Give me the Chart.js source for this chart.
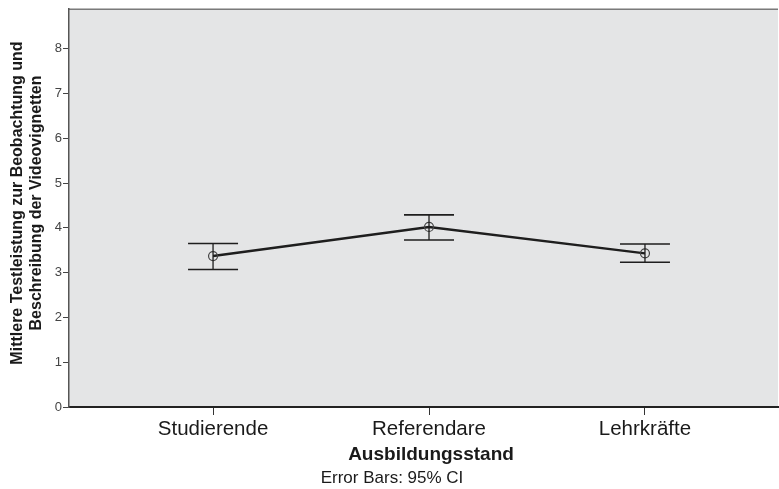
<!DOCTYPE html>
<html>
<head>
<meta charset="utf-8">
<script src="https://cdn.jsdelivr.net/npm/chart.js@4/dist/chart.umd.min.js"></script>
<style>
  html, body { margin: 0; padding: 0; background: #ffffff; overflow: hidden; }
  #wrap { width: 779px; height: 489px; }
</style>
</head>
<body>
<div id="wrap"><canvas id="c" width="779" height="489"></canvas></div>
<script>
// Groups along the x axis
const categories = ['Studierende', 'Referendare', 'Lehrkräfte'];
// Mean test score per group
const means = [3.37, 4.02, 3.43];
// 95% confidence interval bounds per group
const ciLower = [3.07, 3.73, 3.23];
const ciUpper = [3.65, 4.29, 3.64];
// Value axis ticks
const yTicks = [0, 1, 2, 3, 4, 5, 6, 7, 8];

const yTitleLines = ['Mittlere Testleistung zur Beobachtung und', 'Beschreibung der Videovignetten'];
const xTitle = 'Ausbildungsstand';
const footnote = 'Error Bars: 95% CI';

const FONT = '"Liberation Sans", Arial, Helvetica, sans-serif';

// Grey plotting panel with a thin top rule
const panelPlugin = {
  id: 'panel',
  beforeDraw(chart) {
    const { ctx, chartArea: a } = chart;
    ctx.save();
    ctx.fillStyle = '#e4e5e6';
    ctx.fillRect(a.left, a.top, a.right - a.left, a.bottom - a.top);
    ctx.strokeStyle = '#7a7a7a';
    ctx.lineWidth = 1.5;
    ctx.beginPath();
    ctx.moveTo(a.left, a.top + 0.5);
    ctx.lineTo(a.right, a.top + 0.5);
    ctx.stroke();
    ctx.restore();
  }
};

// Confidence interval whiskers with caps
const errorBarPlugin = {
  id: 'errorBars',
  afterDatasetsDraw(chart) {
    const { ctx, scales: { x, y } } = chart;
    const cap = 25;
    ctx.save();
    ctx.strokeStyle = '#1e1e1e';
    categories.forEach((_, i) => {
      const px = x.getPixelForValue(i);
      const yHi = y.getPixelForValue(ciUpper[i]);
      const yLo = y.getPixelForValue(ciLower[i]);
      ctx.lineWidth = 1.3;
      ctx.beginPath();
      ctx.moveTo(px, yHi);
      ctx.lineTo(px, yLo);
      ctx.stroke();
      ctx.lineWidth = 1.6;
      ctx.beginPath();
      ctx.moveTo(px - cap, yHi);
      ctx.lineTo(px + cap, yHi);
      ctx.moveTo(px - cap, yLo);
      ctx.lineTo(px + cap, yLo);
      ctx.stroke();
    });
    ctx.restore();
  }
};

// Axis titles and footnote
const titlesPlugin = {
  id: 'titles',
  afterDraw(chart) {
    const { ctx } = chart;
    ctx.save();
    ctx.fillStyle = '#1a1a1a';
    ctx.textAlign = 'center';
    ctx.textBaseline = 'middle';

    ctx.save();
    ctx.translate(0, 203);
    ctx.rotate(-Math.PI / 2);
    ctx.font = 'bold 16px ' + FONT;
    ctx.fillText(yTitleLines[0], 0, 18);
    ctx.fillText(yTitleLines[1], 0, 37);
    ctx.restore();

    ctx.font = 'bold 19px ' + FONT;
    ctx.fillText(xTitle, 431, 455);

    ctx.font = '17px ' + FONT;
    ctx.fillText(footnote, 392, 478);
    ctx.restore();
  }
};

new Chart(document.getElementById('c'), {
  type: 'line',
  data: {
    datasets: [{
      data: means.map((m, i) => ({ x: i, y: m })),
      borderColor: '#1e1e1e',
      borderWidth: 2.4,
      tension: 0,
      pointRadius: 4.5,
      pointHoverRadius: 4.5,
      pointBackgroundColor: 'rgba(0,0,0,0)',
      pointBorderColor: '#444444',
      pointBorderWidth: 1.2
    }]
  },
  options: {
    responsive: false,
    devicePixelRatio: 1,
    animation: false,
    layout: { autoPadding: false, padding: { top: 6, right: 1, left: 0, bottom: 0 } },
    plugins: { legend: { display: false }, tooltip: { enabled: false } },
    scales: {
      x: {
        type: 'linear',
        min: -0.667,
        max: 2.616,
        afterBuildTicks(scale) { scale.ticks = categories.map((_, i) => ({ value: i })); },
        afterFit(scale) {
          scale.height = 82;
          scale.paddingLeft = 0;
          scale.paddingRight = 0;
        },
        grid: { display: true, drawOnChartArea: false, drawTicks: true, tickLength: 8, color: '#333333', lineWidth: 1 },
        border: { display: true, color: '#222222', width: 2 },
        ticks: {
          autoSkip: false,
          maxRotation: 0,
          padding: 2,
          color: '#1a1a1a',
          font: { family: FONT, size: 20.5 },
          callback: (v) => categories[v]
        }
      },
      y: {
        type: 'linear',
        min: 0,
        max: 8.89,
        afterBuildTicks(scale) { scale.ticks = yTicks.map(v => ({ value: v })); },
        afterFit(scale) { scale.width = 69; },
        grid: { display: true, drawOnChartArea: false, drawTicks: true, tickLength: 6, color: '#444444', lineWidth: 1 },
        border: { display: true, color: '#555555', width: 1.5 },
        ticks: {
          padding: 1,
          color: '#444444',
          font: { family: FONT, size: 13 }
        }
      }
    }
  },
  plugins: [panelPlugin, errorBarPlugin, titlesPlugin]
});
</script>
</body>
</html>
